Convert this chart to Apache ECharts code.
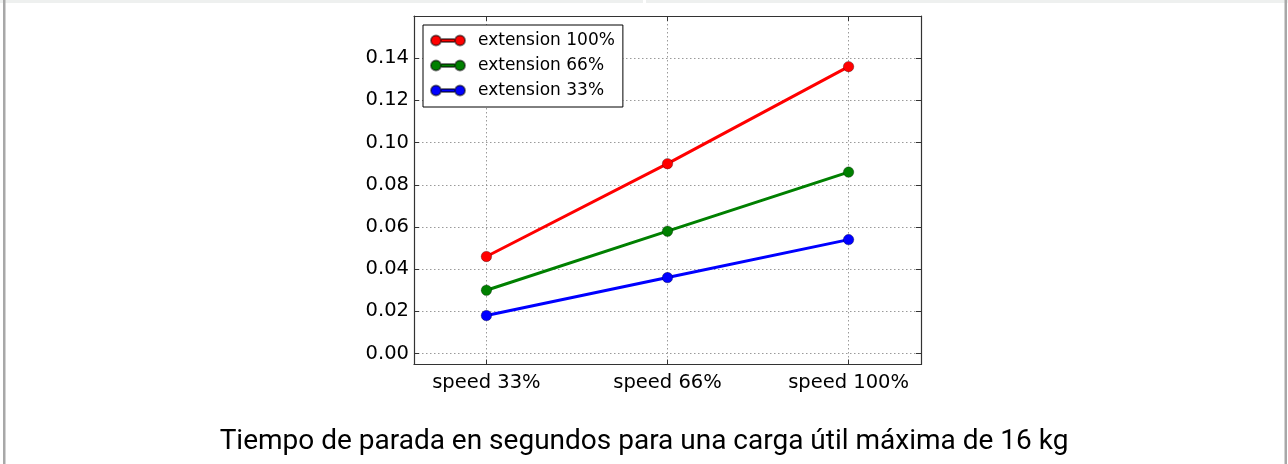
<!DOCTYPE html>
<html>
<head>
<meta charset="utf-8">
<script src="https://cdn.jsdelivr.net/npm/echarts@6/dist/echarts.min.js"></script>
<style>
  html, body { margin: 0; padding: 0; background: #fff; }
  #chart { width: 1288px; height: 464px; }
</style>
</head>
<body>
<div id="chart"></div>
<script>
// Stopping time (s) per speed setting, one series per arm extension
const categories = ['speed 33%', 'speed 66%', 'speed 100%'];
const ext100 = [0.046, 0.090, 0.136];
const ext66 = [0.030, 0.058, 0.086];
const ext33 = [0.018, 0.036, 0.054];
const yTicks = [0, 0.02, 0.04, 0.06, 0.08, 0.10, 0.12, 0.14];
const xTicks = [0, 1, 2];
const titleText = 'Tiempo de parada en segundos para una carga útil máxima de 16 kg';

const pairs = vals => vals.map((v, i) => [i, v]);

// legend glyph: marker - line - marker
const legendIcon = 'path://M0,5A5,5 0 1,0 10,5A5,5 0 1,0 0,5Z' +
  'M9.9,3.6L24.1,3.6L24.1,6.4L9.9,6.4Z' +
  'M24,5A5,5 0 1,0 34,5A5,5 0 1,0 24,5Z';

const tickFont = { fontFamily: 'DejaVu Sans', fontSize: 19.5, color: '#000' };
const gridLine = { show: true, lineStyle: { color: '#9a9a9a', width: 1, type: [1.5, 2.5] } };
const frameLine = { show: true, onZero: false, lineStyle: { color: '#333', width: 1.2 } };

function makeSeries(name, color, vals) {
  return {
    name, type: 'line', data: pairs(vals),
    xAxisIndex: 0, yAxisIndex: 0,
    symbol: 'circle', symbolSize: 10.5,
    lineStyle: { color, width: 3 },
    itemStyle: { color, borderColor: 'rgba(0,0,0,0.5)', borderWidth: 0.6 },
    emphasis: { disabled: true },
    animation: false, z: 3
  };
}

const chart = echarts.init(document.getElementById('chart'), null, { renderer: 'canvas' });
chart.setOption({
  backgroundColor: '#fff',
  animation: false,
  grid: { left: 414, top: 16, width: 507, height: 348.5, containLabel: false },
  title: {
    text: titleText, left: 'center', top: 423,
    textStyle: { fontFamily: 'Roboto', fontSize: 28, fontWeight: 'normal', color: '#000' }
  },
  legend: {
    orient: 'vertical', left: 423, top: 25,
    padding: [7, 8, 8, 7],
    itemWidth: 34, itemHeight: 10, itemGap: 8,
    icon: legendIcon,
    selectedMode: false,
    borderColor: '#000', borderWidth: 1, backgroundColor: '#fff',
    textStyle: { fontFamily: 'DejaVu Sans', fontSize: 17, color: '#000', padding: [0, 0, 0, 8] },
    data: ['extension 100%', 'extension 66%', 'extension 33%'],
    z: 10
  },
  xAxis: [
    {
      type: 'value', min: -0.4, max: 2.4, position: 'bottom',
      axisLine: frameLine,
      axisTick: { show: true, inside: true, length: 5, lineStyle: { color: '#333' }, customValues: xTicks },
      axisLabel: { ...tickFont, margin: 8, customValues: xTicks, formatter: v => categories[Math.round(v)] },
      splitLine: gridLine
    },
    {
      type: 'value', min: -0.4, max: 2.4, position: 'top',
      axisLine: frameLine,
      axisTick: { show: true, inside: true, length: 5, lineStyle: { color: '#333' }, customValues: xTicks },
      axisLabel: { show: false },
      splitLine: { show: false }
    }
  ],
  yAxis: [
    {
      type: 'value', min: -0.0052, max: 0.16, position: 'left',
      axisLine: frameLine,
      axisTick: { show: true, inside: true, length: 5, lineStyle: { color: '#333' }, customValues: yTicks },
      axisLabel: { ...tickFont, margin: 5, customValues: yTicks, formatter: v => v.toFixed(2) },
      splitLine: gridLine
    },
    {
      type: 'value', min: -0.0052, max: 0.16, position: 'right',
      axisLine: frameLine,
      axisTick: { show: true, inside: true, length: 5, lineStyle: { color: '#333' }, customValues: yTicks },
      axisLabel: { show: false },
      splitLine: { show: false }
    }
  ],
  graphic: [
    // page frame: thin top band and side rules
    { type: 'rect', shape: { x: 0, y: 0, width: 643, height: 3 }, style: { fill: '#eef0ef' }, silent: true },
    { type: 'rect', shape: { x: 646, y: 0, width: 642, height: 3 }, style: { fill: '#eef0ef' }, silent: true },
    { type: 'rect', shape: { x: 3, y: 0, width: 2.5, height: 464 }, style: { fill: '#a8a8a8' }, silent: true },
    { type: 'rect', shape: { x: 1284.5, y: 0, width: 2.5, height: 464 }, style: { fill: '#a8a8a8' }, silent: true }
  ],
  series: [
    makeSeries('extension 100%', '#ff0000', ext100),
    makeSeries('extension 66%', '#008000', ext66),
    makeSeries('extension 33%', '#0000ff', ext33)
  ]
});
</script>
</body>
</html>
